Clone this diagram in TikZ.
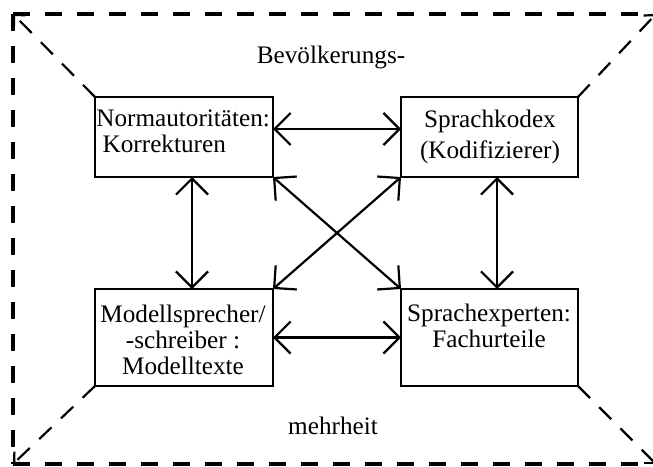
\documentclass[tikz,border=0pt]{standalone}
\usepackage{fontspec}
\setmainfont{Liberation Serif}
\usetikzlibrary{calc,arrows.meta}

\tikzset{
  box/.style={draw,line width=1.3pt,inner sep=0pt,outer sep=0pt},
  txt/.style={font=\fontsize{12.6}{13}\selectfont,inner sep=0pt},
  both/.style={line width=1.1pt,{Straight Barb[length=8pt,width=16pt]}-{Straight Barb[length=8pt,width=16pt]}},
  rim/.style={line width=2.2pt,dash pattern=on 8.5pt off 7.5pt},
  spoke/.style={line width=1.1pt,dash pattern=on 8.5pt off 6.5pt,-{Straight Barb[length=4pt,width=8pt]}},
}

\begin{document}
\begin{tikzpicture}[x=0.5pt,y=-0.5pt]
\clip (0,0) rectangle (653,466);

\coordinate (nw) at (13,14);
\coordinate (ne) at (656,14);
\coordinate (sw) at (13,464);
\coordinate (se) at (656,464);

\node[box,minimum width=89pt,minimum height=40pt] (norm) at (184,137) {};
\node[box,minimum width=88.5pt,minimum height=40pt] (kodex) at (489.5,137) {};
\node[box,minimum width=89pt,minimum height=48.5pt] (modell) at (184,337.5) {};
\node[box,minimum width=88.5pt,minimum height=48.5pt] (experten) at (489.5,337.5) {};

\node[txt,align=left,anchor=base west] (normtext) at (96,152) {Normautoritäten:\\\ Korrekturen};
\node[txt,font=\fontsize{12.6}{15.5}\selectfont,align=center,anchor=base] (kodextext) at (490,158) {Sprachkodex\\(Kodifizierer)};
\node[txt,align=center,anchor=base] (modelltext) at (183,374) {Modellsprecher/\\-schreiber :\\Modelltexte};
\node[txt,align=center,anchor=base] (expertentext) at (489,347) {Sprachexperten:\\Fachurteile};

\node[txt,anchor=base] (oben) at (331,63) {Bevölkerungs-};
\node[txt,anchor=base] (unten) at (333,434) {mehrheit};

\draw[rim] (nw) -- (ne);
\draw[rim] (nw) -- (sw);
\draw[rim] (sw) -- (se);

\draw[spoke] (norm.north west) -- (nw);
\draw[spoke] (kodex.north east) -- (ne);
\draw[spoke] (modell.south west) -- (sw);
\draw[spoke] (experten.south east) -- (se);

\draw[both] ($(norm.east)+(0,-8)$) -- ($(kodex.west)+(0,-8)$);
\draw[both] (modell.east) -- (experten.west);
\draw[both] ($(norm.south)+(8,0)$) -- ($(modell.north)+(8,0)$);
\draw[both] ($(kodex.south)+(7.5,0)$) -- ($(experten.north)+(7.5,0)$);
\draw[both] (norm.south east) -- (experten.north west);
\draw[both] (kodex.south west) -- (modell.north east);

\end{tikzpicture}
\end{document}
